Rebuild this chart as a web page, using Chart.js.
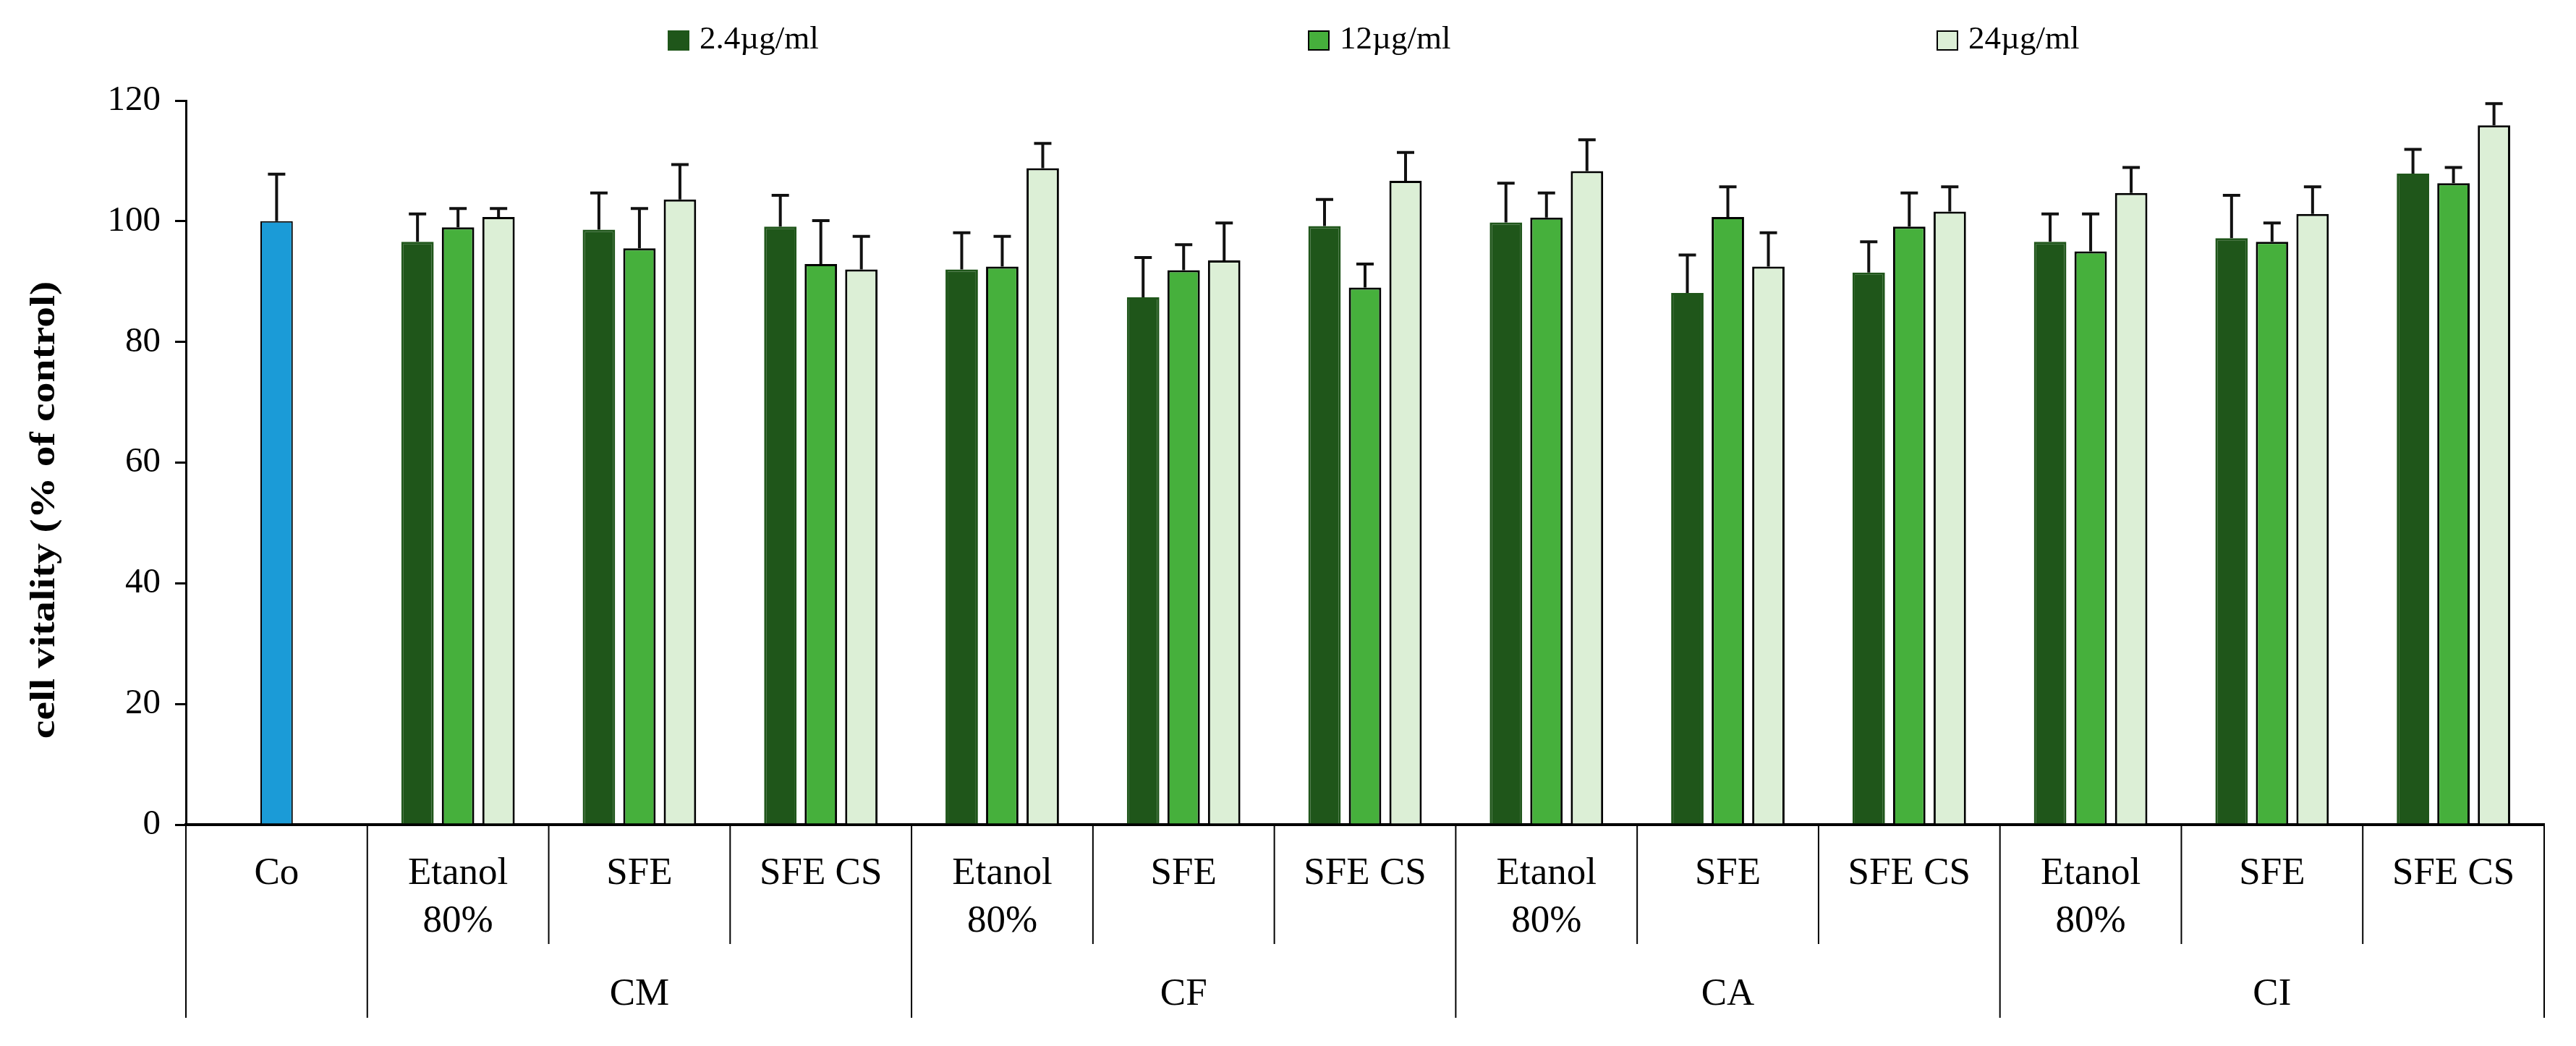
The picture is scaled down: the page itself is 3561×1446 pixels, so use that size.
<!DOCTYPE html>
<html>
<head>
<meta charset="utf-8">
<script src="https://cdn.jsdelivr.net/npm/chart.js@4.4.1/dist/chart.umd.min.js"></script>
<style>
  html, body { margin: 0; padding: 0; background: #fff; }
  #wrap { width: 3561px; height: 1446px; position: relative; }
</style>
</head>
<body>
<div id="wrap"><canvas id="chart"></canvas></div>
<script>
// categories on the x axis (Co + 4 plants x 3 extracts)
const categories = ['Co',
  ['Etanol', '80%'], 'SFE', 'SFE CS',
  ['Etanol', '80%'], 'SFE', 'SFE CS',
  ['Etanol', '80%'], 'SFE', 'SFE CS',
  ['Etanol', '80%'], 'SFE', 'SFE CS']
const groups = ['CM', 'CF', 'CA', 'CI']
const seriesNames = ['2.4µg/ml', '12µg/ml', '24µg/ml']
const yTitle = 'cell vitality (% of control)'

// mean values (% of control), Co is shown in the middle series
const dose24 = [null, 96.6, 98.6, 99.1, 92.0, 87.4, 99.2, 99.8, 88.1, 91.5, 96.6, 97.2, 107.9]
const dose12 = [100.0, 99.0, 95.5, 92.9, 92.5, 91.9, 89.0, 100.6, 100.7, 99.1, 95.0, 96.6, 106.3]
const dose240 = [null, 100.7, 103.6, 92.0, 108.8, 93.5, 106.7, 108.3, 92.5, 101.6, 104.7, 101.2, 115.9]

// standard deviations (upper error bars)
const err24 = [null, 4.6, 6.1, 5.2, 6.1, 6.6, 4.4, 6.5, 6.3, 5.1, 4.6, 7.1, 4.0]
const err12 = [7.8, 3.1, 6.6, 7.2, 5.0, 4.2, 3.9, 4.1, 5.0, 5.6, 6.2, 3.1, 2.6]
const err240 = [null, 1.4, 5.8, 5.5, 4.1, 6.2, 4.7, 5.2, 5.6, 4.1, 4.2, 4.5, 3.6]

const yTicks = [0, 20, 40, 60, 80, 100, 120]

const FONT = "'Liberation Serif', 'Times New Roman', serif"
const darkGreen = '#1f561a'
const midGreen = '#46b03c'
const lightGreen = '#dcefd6'
const blue = '#1b9bd7'

// error bars drawn from the bar value up to value + sd
const errorBars = {
  id: 'errorBars',
  afterDatasetsDraw(chart) {
    const ctx = chart.ctx
    const y = chart.scales.y
    ctx.save()
    ctx.strokeStyle = '#111'
    ctx.lineWidth = 4
    chart.data.datasets.forEach((ds, di) => {
      const meta = chart.getDatasetMeta(di)
      meta.data.forEach((bar, i) => {
        const v = ds.data[i]
        const e = ds.errors[i]
        if (v == null || e == null) return
        const yTop = y.getPixelForValue(v + e)
        ctx.beginPath()
        ctx.moveTo(bar.x, bar.y)
        ctx.lineTo(bar.x, yTop)
        ctx.moveTo(bar.x - 12, yTop)
        ctx.lineTo(bar.x + 12, yTop)
        ctx.stroke()
      })
    })
    ctx.restore()
  }
}

// separators under the x axis, plant group labels and the y title
const groupAxis = {
  id: 'groupAxis',
  afterDraw(chart) {
    const ctx = chart.ctx
    const x = chart.scales.x
    const area = chart.chartArea
    const shortEnd = 1305
    const longEnd = 1407
    const longAfter = [0, 3, 6, 9, 12]
    ctx.save()
    ctx.strokeStyle = '#000'
    ctx.lineWidth = 2
    const step = x.getPixelForValue(1) - x.getPixelForValue(0)
    // left edge
    ctx.beginPath()
    ctx.moveTo(area.left, area.bottom)
    ctx.lineTo(area.left, longEnd)
    ctx.stroke()
    for (let i = 0; i < categories.length; i++) {
      const bx = x.getPixelForValue(i) + step / 2
      ctx.beginPath()
      ctx.moveTo(bx, area.bottom)
      ctx.lineTo(bx, longAfter.includes(i) ? longEnd : shortEnd)
      ctx.stroke()
    }
    ctx.fillStyle = '#000'
    ctx.font = '53px ' + FONT
    ctx.textAlign = 'center'
    ctx.textBaseline = 'middle'
    groups.forEach((g, gi) => {
      const cx = x.getPixelForValue(2 + gi * 3)
      ctx.fillText(g, cx, 1375)
    })

    // y title, a bit stretched along its length like the original
    ctx.translate(63, 705)
    ctx.rotate(-Math.PI / 2)
    ctx.scale(1.2, 1)
    ctx.font = 'bold 48px ' + FONT
    ctx.fillText(yTitle, 0, 0)
    ctx.restore()
  }
}

// legend row on top
const topLegend = {
  id: 'topLegend',
  afterDraw(chart) {
    const ctx = chart.ctx
    const boxX = [924, 1809, 2678]
    ctx.save()
    ctx.font = '45px ' + FONT
    ctx.textBaseline = 'middle'
    ctx.textAlign = 'left'
    chart.data.datasets.forEach((ds, i) => {
      ctx.fillStyle = ds.legendColor
      ctx.fillRect(boxX[i], 43, 28, 26)
      ctx.lineWidth = 2
      ctx.strokeStyle = i === 0 ? darkGreen : '#000'
      ctx.strokeRect(boxX[i], 43, 28, 26)
      ctx.fillStyle = '#000'
      ctx.fillText(ds.label, boxX[i] + 43, 55)
    })
    ctx.restore()
  }
}

const ctx = document.getElementById('chart').getContext('2d')
const chart = new Chart(ctx, {
  type: 'bar',
  data: {
    labels: categories,
    datasets: [
      {
        label: seriesNames[0],
        data: dose24,
        errors: err24,
        backgroundColor: darkGreen,
        borderColor: darkGreen,
        legendColor: darkGreen,
        borderWidth: 3
      },
      {
        label: seriesNames[1],
        data: dose12,
        errors: err12,
        backgroundColor: dose12.map((v, i) => i === 0 ? blue : midGreen),
        borderColor: '#000',
        legendColor: midGreen,
        borderWidth: dose12.map((v, i) => i === 0 ? 2 : 3)
      },
      {
        label: seriesNames[2],
        data: dose240,
        errors: err240,
        backgroundColor: lightGreen,
        borderColor: '#000',
        legendColor: lightGreen,
        borderWidth: 3
      }
    ]
  },
  options: {
    responsive: true,
    maintainAspectRatio: false,
    devicePixelRatio: 1,
    animation: false,
    layout: { padding: { top: 139, right: 44, left: 0, bottom: 0 } },
    categoryPercentage: 0.67,
    barPercentage: 0.8,
    plugins: {
      legend: { display: false },
      tooltip: { enabled: false }
    },
    scales: {
      x: {
        afterFit: s => { s.height = 306 },
        grid: { display: false, drawTicks: false },
        border: { display: true, color: '#000', width: 4 },
        ticks: {
          color: '#000',
          font: { family: FONT, size: 53, lineHeight: 1.25 },
          padding: 35,
          maxRotation: 0,
          autoSkip: false
        }
      },
      y: {
        min: 0,
        max: 120,
        afterFit: s => { s.width = 257 },
        afterBuildTicks: s => { s.ticks = yTicks.map(v => ({ value: v })) },
        grid: { drawOnChartArea: false, color: '#000', lineWidth: 3, tickLength: 15 },
        border: { display: true, color: '#000', width: 3 },
        ticks: {
          color: '#000',
          font: { family: FONT, size: 49 },
          padding: 20
        }
      }
    }
  },
  plugins: [errorBars, groupAxis, topLegend]
})
</script>
</body>
</html>
